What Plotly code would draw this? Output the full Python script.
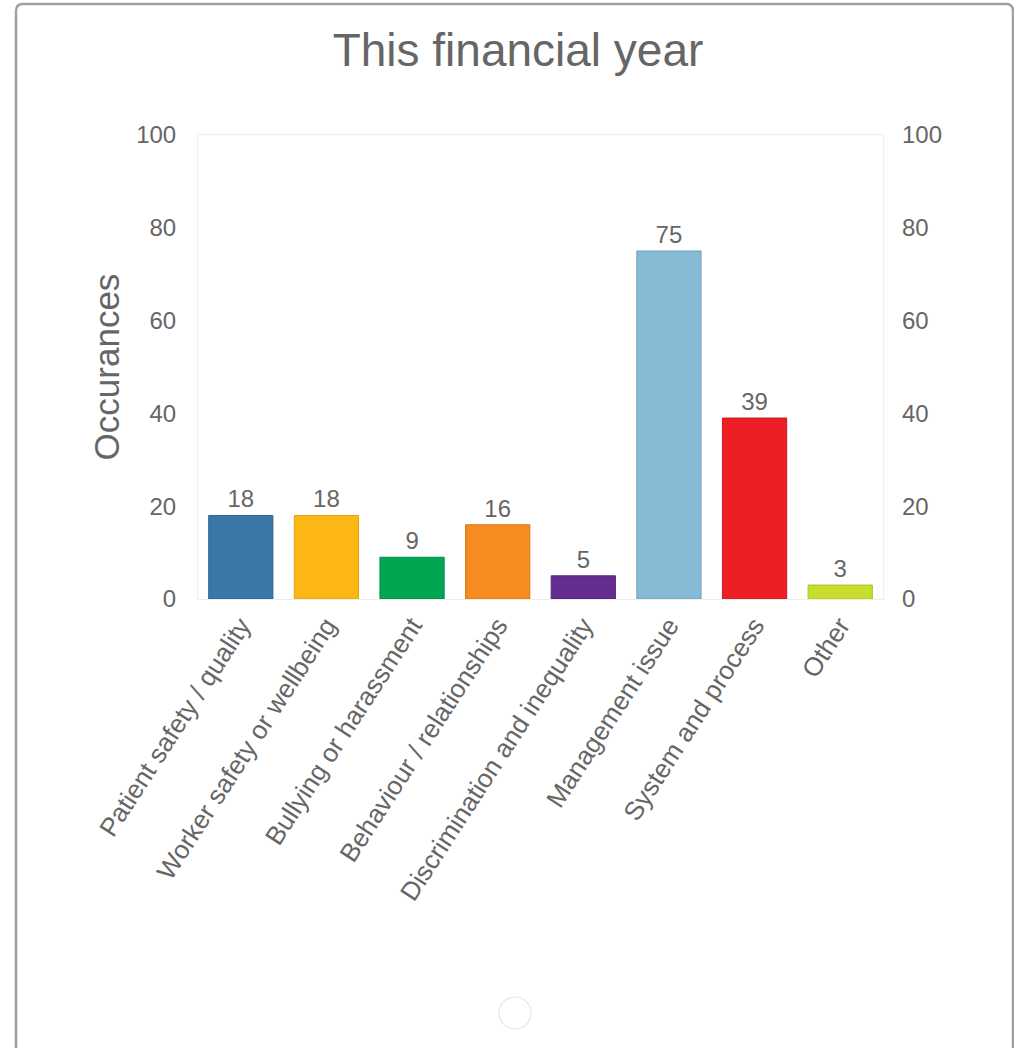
import plotly.graph_objects as go

# Reported concerns by category for the current financial year
categories = [
    "Patient safety / quality",
    "Worker safety or wellbeing",
    "Bullying or harassment",
    "Behaviour / relationships",
    "Discrimination and inequality",
    "Management issue",
    "System and process",
    "Other",
]
occurrences = [18, 18, 9, 16, 5, 75, 39, 3]
bar_colors = ["#3a77a8", "#fdb714", "#00a651", "#f68b1f", "#662d91", "#86b9d3", "#ed1f25", "#c9dd2c"]
line_colors = ["#2f6590", "#e0a210", "#008f45", "#d8751a", "#55247a", "#6fa3be", "#cc1a20", "#adbf22"]
y_ticks = [0, 20, 40, 60, 80, 100]

W, H = 1014, 1048
L, R, T, B = 198, 883, 135, 599
FONT = "Liberation Sans, Arial, sans-serif"
GREY = "#666666"


def px(x):
    return (x - L) / (R - L)


def py(y):
    return (B - y) / (B - T)


fig = go.Figure()
fig.add_trace(go.Bar(
    x=categories,
    y=occurrences,
    marker=dict(color=bar_colors, line=dict(color=line_colors, width=1)),
    width=0.75,
    text=[str(v) for v in occurrences],
    textposition="outside",
    textfont=dict(family=FONT, size=24, color=GREY),
    cliponaxis=False,
    hoverinfo="x+y",
))
# invisible companion trace so the right-hand axis is drawn
fig.add_trace(go.Scatter(
    x=categories, y=occurrences, yaxis="y2", mode="markers",
    marker=dict(opacity=0), hoverinfo="skip", showlegend=False,
))

# card outline with rounded top corners, open at the bottom
r = 7
x0, x1, y0, y1 = 16, 1013, 4, 1060
path = (
    f"M {px(x0)},{py(y1)} L {px(x0)},{py(y0 + r)} "
    f"Q {px(x0)},{py(y0)} {px(x0 + r)},{py(y0)} "
    f"L {px(x1 - r)},{py(y0)} "
    f"Q {px(x1)},{py(y0)} {px(x1)},{py(y0 + r)} "
    f"L {px(x1)},{py(y1)}"
)
shapes = [
    dict(type="path", xref="paper", yref="paper", path=path,
         line=dict(color="#a0a0a0", width=2.5), layer="below"),
    dict(type="circle", xref="paper", yref="paper",
         x0=px(499), x1=px(531), y0=py(1029), y1=py(997),
         line=dict(color="#e6e6e6", width=1.2), fillcolor="rgba(0,0,0,0)"),
]

axis_font = dict(family=FONT, size=24, color=GREY)
fig.update_layout(
    width=W, height=H,
    margin=dict(l=L, r=W - R, t=T, b=H - B, autoexpand=False),
    paper_bgcolor="white", plot_bgcolor="white",
    showlegend=False,
    title=dict(text="This financial year", x=518 / W, xref="container", xanchor="center",
               y=1 - 50 / H, yref="container", yanchor="middle",
               font=dict(family=FONT, size=46, color=GREY)),
    xaxis=dict(tickangle=-57, tickfont=dict(family=FONT, size=26, color=GREY),
               showline=True, linecolor="#eeeeee", linewidth=1, mirror=True,
               showgrid=False, ticks="", fixedrange=True),
    yaxis=dict(range=[0, 100], tickvals=y_ticks, tickfont=axis_font,
               showgrid=False, zeroline=False, showline=True, linecolor="#eeeeee",
               mirror=True, ticks="", ticklabelstandoff=16,
               title=dict(text="Occurances", font=dict(family=FONT, size=35, color=GREY),
                          standoff=5)),
    yaxis2=dict(range=[0, 100], tickvals=y_ticks, tickfont=axis_font,
                overlaying="y", side="right", showgrid=False, zeroline=False,
                showline=False, ticks="", ticklabelstandoff=18),
    shapes=shapes,
)

fig.write_html("out.html")
